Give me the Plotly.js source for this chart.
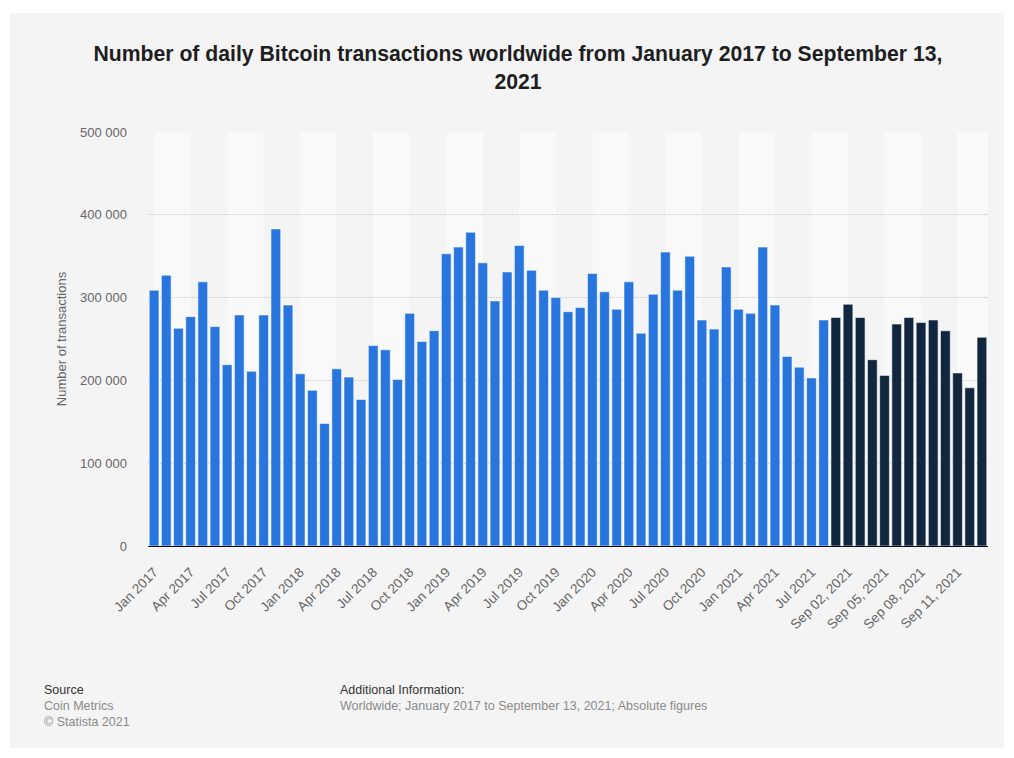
<!DOCTYPE html>
<html>
<head>
<meta charset="utf-8">
<script src="https://cdn.plot.ly/plotly-3.0.1.min.js"></script>
<style>
  html, body { margin: 0; padding: 0; background: #ffffff; }
  #chart { width: 1014px; height: 758px; }
</style>
</head>
<body>
<div id="chart"></div>
<script>
// ---- Data ----
var monthCategories = [
  "Jan 2017","Feb 2017","Mar 2017","Apr 2017","May 2017","Jun 2017","Jul 2017","Aug 2017","Sep 2017","Oct 2017","Nov 2017","Dec 2017",
  "Jan 2018","Feb 2018","Mar 2018","Apr 2018","May 2018","Jun 2018","Jul 2018","Aug 2018","Sep 2018","Oct 2018","Nov 2018","Dec 2018",
  "Jan 2019","Feb 2019","Mar 2019","Apr 2019","May 2019","Jun 2019","Jul 2019","Aug 2019","Sep 2019","Oct 2019","Nov 2019","Dec 2019",
  "Jan 2020","Feb 2020","Mar 2020","Apr 2020","May 2020","Jun 2020","Jul 2020","Aug 2020","Sep 2020","Oct 2020","Nov 2020","Dec 2020",
  "Jan 2021","Feb 2021","Mar 2021","Apr 2021","May 2021","Jun 2021","Jul 2021","Aug 2021"
];
var monthValues = [
  309000, 327000, 263000, 277000, 319000, 265000, 219000, 279000, 211000, 279000, 383000, 291000,
  208000, 188000, 148000, 214000, 204000, 177000, 242000, 237000, 201000, 281000, 247000, 260000,
  353000, 361000, 379000, 342000, 296000, 331000, 363000, 333000, 309000, 300000, 283000, 288000,
  329000, 307000, 286000, 319000, 257000, 304000, 355000, 309000, 350000, 273000, 262000, 337000,
  286000, 281000, 361000, 291000, 229000, 216000, 203000, 273000
];
var dayCategories = [
  "Sep 01, 2021","Sep 02, 2021","Sep 03, 2021","Sep 04, 2021","Sep 05, 2021","Sep 06, 2021","Sep 07, 2021",
  "Sep 08, 2021","Sep 09, 2021","Sep 10, 2021","Sep 11, 2021","Sep 12, 2021","Sep 13, 2021"
];
var dayValues = [
  276000, 292000, 276000, 225000, 206000, 268000, 276000, 270000, 273000, 260000, 209000, 191000, 252000
];
var tickLabels = [
  "Jan 2017","Apr 2017","Jul 2017","Oct 2017","Jan 2018","Apr 2018","Jul 2018","Oct 2018",
  "Jan 2019","Apr 2019","Jul 2019","Oct 2019","Jan 2020","Apr 2020","Jul 2020","Oct 2020",
  "Jan 2021","Apr 2021","Jul 2021","Sep 02, 2021","Sep 05, 2021","Sep 08, 2021","Sep 11, 2021"
];

var titleText = "Number of daily Bitcoin transactions worldwide from January 2017 to September 13,<br>2021";
var yTitle = "Number of transactions";

// ---- Chart ----
var allCategories = monthCategories.concat(dayCategories);
var FONT = "Liberation Sans, Arial, Helvetica, sans-serif";

var traces = [
  {
    type: "bar",
    x: monthCategories,
    y: monthValues,
    name: "Monthly",
    marker: { color: "#2876dd", line: { color: "rgba(255,255,255,0.55)", width: 1 } },
    hoverinfo: "x+y"
  },
  {
    type: "bar",
    x: dayCategories,
    y: dayValues,
    name: "Daily",
    marker: { color: "#11263f", line: { color: "rgba(255,255,255,0.55)", width: 1 } },
    hoverinfo: "x+y"
  }
];

var shapes = [];
// gray panel
shapes.push({
  type: "rect", xref: "paper", yref: "paper",
  x0: -0.1643, x1: 1.019, y0: -0.488, y1: 1.2874,
  fillcolor: "#f4f4f4", line: { width: 0 }, layer: "below"
});
// alternating light bands between ticks
var nCat = allCategories.length;
for (var k = 0; k * 6 < nCat; k++) {
  shapes.push({
    type: "rect", xref: "x", yref: "paper",
    x0: k * 6, x1: Math.min(k * 6 + 3, nCat - 0.5), y0: 0, y1: 1,
    fillcolor: "#f9f9f9", line: { width: 0 }, layer: "below"
  });
}

var annotations = [
  { text: "Source", x: -0.1262, y: -0.3478, font: { size: 12.5, color: "#333333", family: FONT } },
  { text: "Coin Metrics", x: -0.1262, y: -0.3865, font: { size: 12.5, color: "#8a8a8a", family: FONT } },
  { text: "© Statista 2021", x: -0.1262, y: -0.4251, font: { size: 12.5, color: "#8a8a8a", family: FONT } },
  { text: "Additional Information:", x: 0.2262, y: -0.3478, font: { size: 12.5, color: "#333333", family: FONT } },
  { text: "Worldwide; January 2017 to September 13, 2021; Absolute figures", x: 0.2262, y: -0.3865, font: { size: 12.5, color: "#8a8a8a", family: FONT } }
].map(function (a) {
  a.xref = "paper"; a.yref = "paper"; a.xanchor = "left"; a.yanchor = "middle"; a.showarrow = false;
  return a;
});

var layout = {
  width: 1014,
  height: 758,
  margin: { l: 148, r: 26, t: 132, b: 212, pad: 0 },
  paper_bgcolor: "#ffffff",
  plot_bgcolor: "rgba(0,0,0,0)",
  font: { family: FONT, color: "#666666", size: 13 },
  separators: ". ",
  showlegend: false,
  bargap: 0.2,
  title: {
    text: titleText,
    font: { family: FONT, size: 21.2, color: "#1e1e1e", weight: "bold" },
    x: 0.5108, xref: "container", xanchor: "center",
    y: 0.9196, yref: "container", yanchor: "middle"
  },
  xaxis: {
    type: "category",
    categoryorder: "array",
    categoryarray: allCategories,
    range: [-0.5, nCat - 0.5],
    tickmode: "array",
    tickvals: tickLabels,
    ticktext: tickLabels,
    tickangle: -45,
    tickfont: { size: 13.5, color: "#666666", family: FONT },
    ticklabelstandoff: 12,
    showline: true,
    linecolor: "#000000",
    linewidth: 1,
    showgrid: false,
    zeroline: false,
    ticks: ""
  },
  yaxis: {
    range: [0, 500000],
    dtick: 100000,
    tick0: 0,
    tickformat: ",d",
    showgrid: true,
    gridcolor: "#c8c8c8",
    griddash: "1px,1px",
    gridwidth: 1,
    zeroline: false,
    showline: false,
    tickfont: { size: 13, color: "#666666", family: FONT },
    ticklabelstandoff: 20,
    title: { text: yTitle, font: { size: 13, color: "#666666", family: FONT }, standoff: 10 }
  },
  shapes: shapes,
  annotations: annotations
};

Plotly.newPlot("chart", traces, layout, { displayModeBar: false, staticPlot: true });
</script>
</body>
</html>
